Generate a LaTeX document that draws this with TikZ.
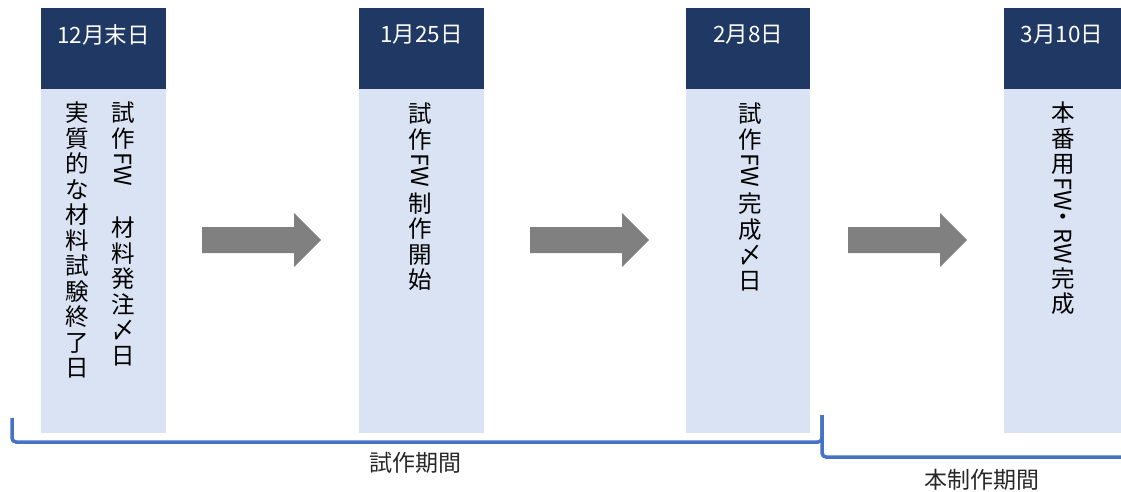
\documentclass[tikz,border=0pt]{standalone}
\usepackage{fontspec}
\setmainfont{Noto Sans CJK JP}
\usetikzlibrary{calc}
\definecolor{navy}{RGB}{31,56,100}
\definecolor{lightblue}{RGB}{218,227,243}
\definecolor{arrowgray}{RGB}{128,128,128}
\definecolor{bracketblue}{RGB}{68,114,196}
\definecolor{labelgray}{RGB}{40,40,40}
\newcommand{\bodyfont}{\fontsize{23.5}{25.5}\selectfont}
\begin{document}
\begin{tikzpicture}[x=1pt,y=-1pt,
  header/.style={fill=navy,draw=none},
  bodybox/.style={fill=lightblue,draw=none},
  headtext/.style={text=white,font=\fontsize{22.5}{24}\selectfont,inner sep=0pt,anchor=center},
  vtext/.style={font=\bodyfont,align=center,inner sep=0pt,anchor=north,text=black},
  fwtext/.style={font=\bodyfont,rotate=-90,anchor=west,inner sep=0pt,text=black},
  blockarrow/.style={fill=arrowgray,draw=none},
  bracket/.style={draw=bracketblue,line width=3.5pt,rounded corners=4pt},
  periodlabel/.style={font=\fontsize{23}{26}\selectfont,text=labelgray,inner sep=0pt}
]
\useasboundingbox (0,0) rectangle (1121,492);
\begin{scope}
\clip (0,0) rectangle (1121,492);
% columns
\foreach \xa/\xb in {41/166, 359/484, 686/810, 1004/1130}{
  \fill[bodybox] (\xa,89) rectangle (\xb,433);
  \fill[header] (\xa,8) rectangle (\xb,89);
}
\end{scope}
% header texts
\node[headtext] (h1) at (103.5,35) {12月末日};
\node[headtext] (h2) at (421.5,35) {1月25日};
\node[headtext] (h3) at (748,35) {2月8日};
\node[headtext] (h4) at (1062,35) {3月10日};
% column 1, right line
\node[vtext] (b1ra) at (123,102) {試\\作};
\node[fwtext] (b1rf) at ($(b1ra.south)+(0,3)$) {FW};
\node[vtext] (b1rb) at ($(b1rf.east)+(0,30)$) {材\\料\\発\\注\\〆\\日};
% column 1, left line
\node[vtext] (b1l) at (77,102) {実\\質\\的\\な\\材\\料\\試\\験\\終\\了\\日};
% column 2
\node[vtext] (b2a) at (420,103) {試\\作};
\node[fwtext] (b2f) at ($(b2a.south)+(0,3)$) {FW};
\node[vtext] (b2b) at ($(b2f.east)+(0,5)$) {制\\作\\開\\始};
% column 3
\node[vtext] (b3a) at (750,103) {試\\作};
\node[fwtext] (b3f) at ($(b3a.south)+(0,3)$) {FW};
\node[vtext] (b3b) at ($(b3f.east)+(0,5)$) {完\\成\\〆\\日};
% column 4
\node[vtext] (b4a) at (1063,102) {本\\番\\用};
\node[fwtext] (b4f) at ($(b4a.south)+(0,2)$) {FW};
\node[vtext] (b4d) at ($(b4f.east)+(0,3)$) {・};
\node[fwtext] (b4r) at ($(b4d.south)+(0,2)$) {RW};
\node[vtext] (b4b) at ($(b4r.east)+(0,3)$) {完\\成};
% block arrows
\foreach \x in {202,530,848}{
  \fill[blockarrow] (\x,227) -- (\x+92,227) -- (\x+92,213) -- (\x+119,240)
    -- (\x+92,267) -- (\x+92,253) -- (\x,253) -- cycle;
}
% brackets
\coordinate (p1a) at (12,418);
\coordinate (p1b) at (12,442);
\coordinate (p1c) at (822,442);
\coordinate (p2a) at (822,415);
\coordinate (p2b) at (822,457);
\coordinate (p2c) at (1125,457);
\draw[bracket] (p1a) -- (p1b) -- (p1c) -- (p2a);
\draw[bracket] (p2a) -- (p2b) -- (p2c);
\node[periodlabel] (l1) at (415,463) {試作期間};
\node[periodlabel] (l2) at (982,480) {本制作期間};
\end{tikzpicture}
\end{document}
